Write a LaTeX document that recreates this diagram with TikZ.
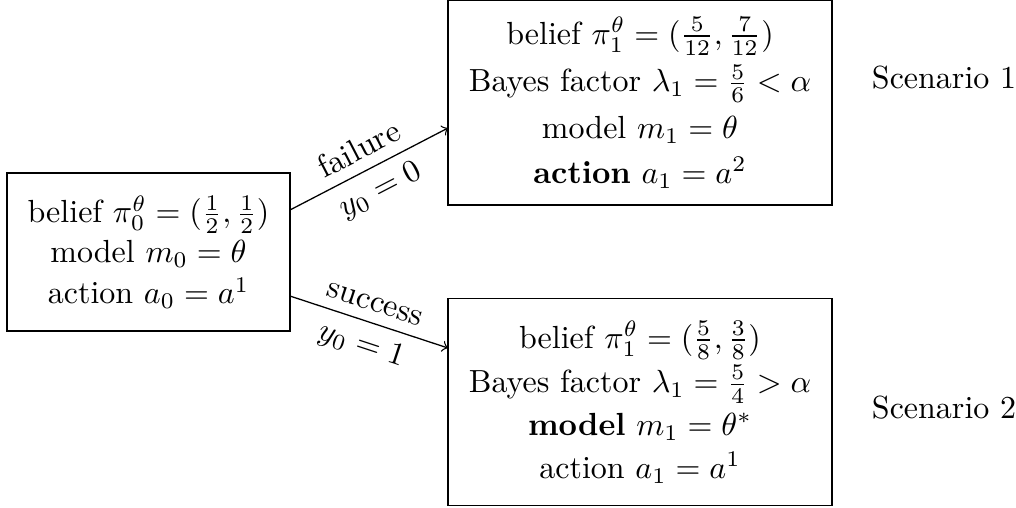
\documentclass[tikz,border=0pt]{standalone}
\usetikzlibrary{calc}
\begin{document}
\begin{tikzpicture}[x=0.3125pt,y=-0.3125pt,
  box/.style={draw,align=center,inner sep=0pt,outer sep=0pt,font={\fontsize{10}{12.4}\selectfont}},
  conn/.style={->}]
\useasboundingbox (0,0) rectangle (1016,507);
\node[box,minimum width=88.4pt,minimum height=49.4pt] (L) at (148.5,252) {belief $\pi_0^\theta=(\frac12,\frac12)$\\ model $m_0=\theta$\\[0.5pt] action $a_0=a^1$};
\node[box,minimum width=120pt,minimum height=64pt] (T) at (640,102.5) {belief $\pi_1^\theta=(\frac{5}{12},\frac{7}{12})$\\[2.5pt] Bayes factor $\lambda_1=\frac56<\alpha$\\[2.2pt] model $m_1=\theta$\\[1.6pt] \textbf{action} $a_1=a^2$};
\node[box,minimum width=120pt,minimum height=64.7pt] (B) at (640,402) {belief $\pi_1^\theta=(\frac{5}{8},\frac{3}{8})$\\[1.5pt] Bayes factor $\lambda_1=\frac54>\alpha$\\[1pt] \textbf{model} $m_1=\theta^*$\\[1pt] action $a_1=a^1$};
\node (S1) at (944,78) {Scenario 1};
\node (S2) at (944,408) {Scenario 2};
\coordinate (a1) at ($(L.east)+(0,-42)$);
\coordinate (b1) at ($(T.west)+(0,25.5)$);
\coordinate (a2) at ($(L.east)+(0,44)$);
\coordinate (b2) at ($(B.west)+(0,-54)$);
\draw[conn] (a1) -- node[above,sloped] {failure} node[below,sloped] {$y_0=0$} (b1);
\draw[conn] (a2) -- node[above,sloped] {success} node[below,sloped] {$y_0=1$} (b2);
\end{tikzpicture}
\end{document}
